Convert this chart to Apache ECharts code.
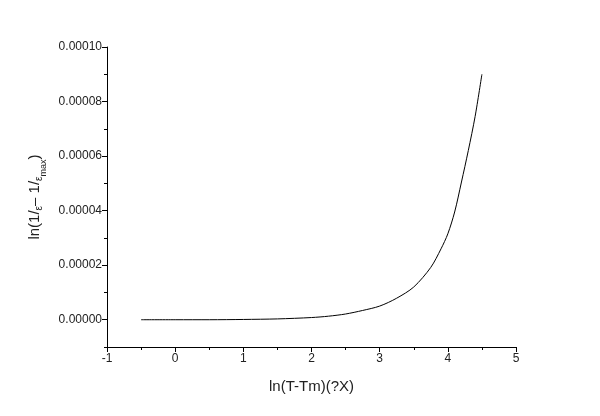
<!DOCTYPE html>
<html><head><meta charset="utf-8">
<script src="https://cdn.jsdelivr.net/npm/echarts@6/dist/echarts.min.js"></script>
<style>html,body{margin:0;padding:0;background:#fff}#c{width:600px;height:416px}</style>
</head><body><div id="c"></div>
<script>
const xValues = [-0.5, 0, 0.5, 1, 1.5, 2, 2.25, 2.5, 2.75, 3, 3.25, 3.5, 3.75, 3.9, 4, 4.1, 4.2, 4.3, 4.4, 4.5];
const yValues = [0, 0, 0, 0.0000001, 0.0000003, 0.0000008, 0.0000013, 0.0000021, 0.0000034, 0.0000050, 0.0000079, 0.0000120, 0.0000192, 0.0000260, 0.0000315, 0.0000395, 0.0000505, 0.0000620, 0.0000745, 0.0000900];
const xTicks = [-1, 0, 1, 2, 3, 4, 5];
const yTicks = [0, 0.00002, 0.00004, 0.00006, 0.00008, 0.0001];
const yMinorTicks = [-0.00001, 0.00001, 0.00003, 0.00005, 0.00007, 0.00009];
const yMin = -0.00001;
const xTitle = 'ln(T-Tm)(?X)';

const chart = echarts.init(document.getElementById('c'), null, {renderer: 'canvas'});
const font = '"Liberation Sans", Arial, sans-serif';
const yMax = yTicks[yTicks.length - 1];
chart.setOption({
  animation: false,
  grid: {left: 107, right: 84, top: 47, bottom: 69},
  xAxis: {
    type: 'value', min: xTicks[0], max: xTicks[xTicks.length - 1], interval: 1,
    name: xTitle, nameLocation: 'middle', nameGap: 32,
    nameTextStyle: {fontFamily: font, fontSize: 15, color: '#222'},
    axisLine: {show: true, onZero: false, lineStyle: {color: '#000', width: 1}},
    axisTick: {show: true, inside: false, length: 5, lineStyle: {color: '#000'}},
    minorTick: {show: true, splitNumber: 2, length: 3, lineStyle: {color: '#000'}},
    axisLabel: {fontFamily: font, fontSize: 12, color: '#222', margin: 6},
    splitLine: {show: false}
  },
  yAxis: [{
    type: 'value', min: yMin, max: yMax,
    name: '{a|ln(1/}{s|ε}{a|– 1/}{s|ε}{m|max}{a|)}', nameLocation: 'middle', nameGap: 62,
    nameTextStyle: {fontFamily: font, fontSize: 15, color: '#222',
      rich: {
        a: {fontFamily: font, fontSize: 15, color: '#222', lineHeight: 20, verticalAlign: 'middle'},
        s: {fontFamily: font, fontSize: 10, color: '#222', lineHeight: 20, verticalAlign: 'bottom'},
        m: {fontFamily: font, fontSize: 9, color: '#222', lineHeight: 20, verticalAlign: 'bottom', padding: [0,0,-3,0]}
      }},
    axisLine: {show: true, onZero: false, lineStyle: {color: '#000', width: 1}},
    axisTick: {show: true, inside: false, length: 5, customValues: yTicks, lineStyle: {color: '#000'}},
    axisLabel: {fontFamily: font, fontSize: 12, color: '#222', margin: 5, customValues: yTicks,
      formatter: v => (Math.abs(v) < 1e-12 ? 0 : v).toFixed(5)},
    splitLine: {show: false}
  }, {
    type: 'value', min: yMin, max: yMax, position: 'left',
    axisLine: {show: false, onZero: false},
    axisTick: {show: true, inside: false, length: 3, customValues: yMinorTicks, lineStyle: {color: '#000'}},
    axisLabel: {show: false},
    splitLine: {show: false}
  }],
  series: [{
    type: 'line', data: xValues.map((x, i) => [x, yValues[i]]),
    smooth: 0.3, showSymbol: false, symbol: 'none',
    lineStyle: {color: '#000', width: 1}
  }]
});
</script></body></html>
